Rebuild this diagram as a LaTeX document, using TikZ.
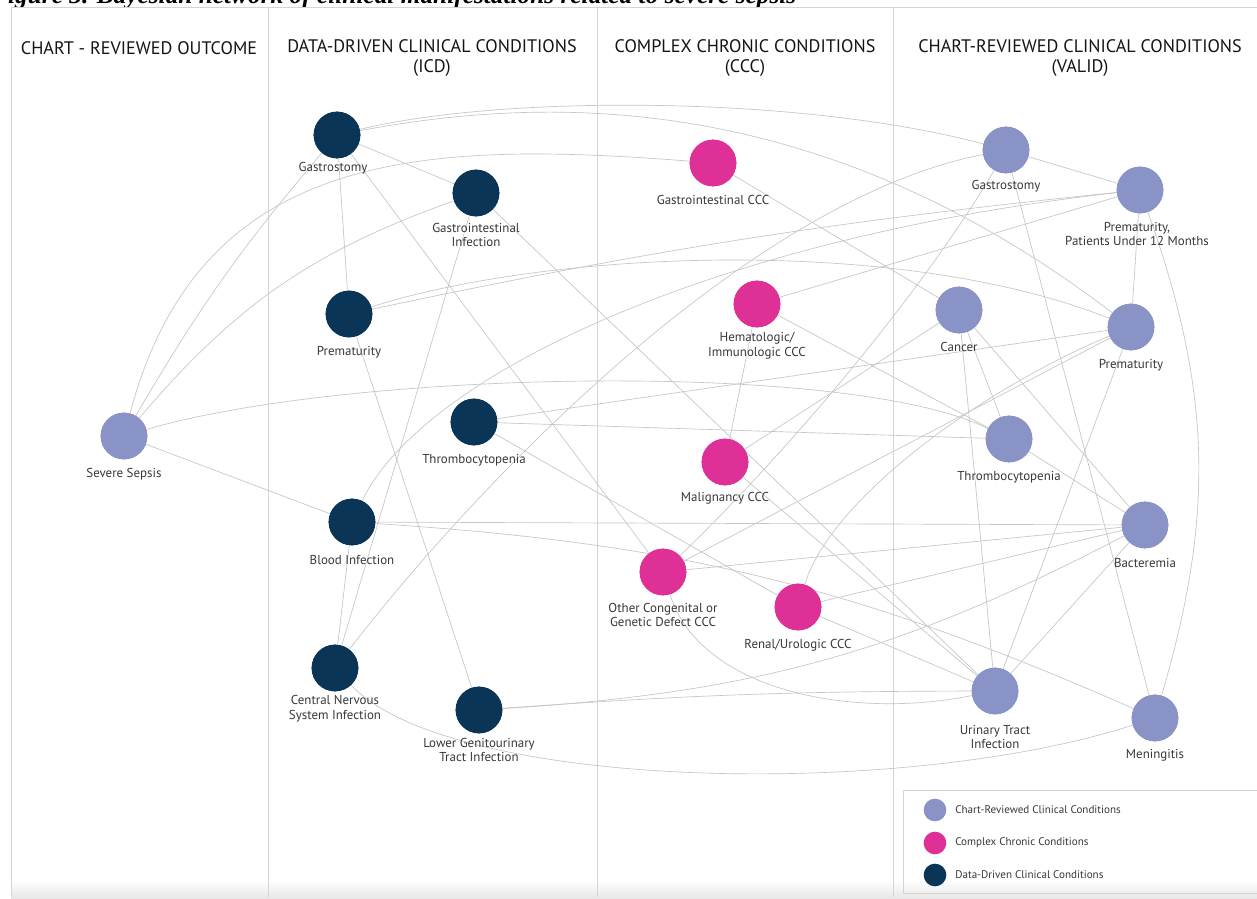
\documentclass[tikz,border=0pt]{standalone}
\usepackage{fontspec}
\setmainfont{PT Sans}
\newfontfamily\capfont{Liberation Serif}
\definecolor{navy}{HTML}{0B3556}
\definecolor{mag}{HTML}{DF3097}
\definecolor{lav}{HTML}{8A93C6}
\definecolor{edgec}{HTML}{C6C6C6}
\definecolor{framec}{HTML}{D4D4D4}
\definecolor{txt}{HTML}{383838}
\begin{document}
\begin{tikzpicture}[x=0.75pt,y=-0.75pt,
  nd/.style={circle,minimum size=35pt,inner sep=0pt},
  icd/.style={nd,fill=navy},
  ccc/.style={nd,fill=mag},
  val/.style={nd,fill=lav},
  lbl/.style={font=\fontsize{9.7}{11}\selectfont,text=txt,align=center,inner sep=0pt},
  hdr/.style={font=\fontsize{13.6}{15}\selectfont,text=black!92,align=center,inner sep=0pt},
  ed/.style={draw=edgec,line width=0.5pt},
  frm/.style={draw=framec,line width=0.6pt},
  legc/.style={circle,minimum size=17pt,inner sep=0pt},
  legt/.style={font=\fontsize{8.3}{9}\selectfont,text=txt,anchor=west,inner sep=0pt},
]
\useasboundingbox (0,0) rectangle (1257,899);
\fill[white] (0,0) rectangle (1257,899);
% caption (cut off at the top in the reference)
\begin{scope}
\clip (0,0) rectangle (1257,7);
\node[anchor=base west,inner sep=0pt,font=\capfont\bfseries\itshape\fontsize{19}{21}\selectfont] (cap) at (-9,4) {Figure 3. Bayesian network of clinical manifestations related to severe sepsis};
\end{scope}
% bottom shading
\shade[top color=white,bottom color=black!10] (11,880) rectangle (1257,899);
% frame
\draw[frm] (11,7) -- (1257,7);
\draw[frm] (11,7) -- (11,897);
\draw[frm] (268,7) -- (268,897);
\draw[frm] (597,7) -- (597,897);
\draw[frm] (893,7) -- (893,897);
% headers
\node[hdr] (h1) at (139,48) {CHART - REVIEWED OUTCOME};
\node[hdr] (h2) at (432,58) {DATA-DRIVEN CLINICAL CONDITIONS\\(ICD)};
\node[hdr] (h3) at (745,58) {COMPLEX CHRONIC CONDITIONS\\(CCC)};
\node[hdr] (h4) at (1080,58) {CHART-REVIEWED CLINICAL CONDITIONS\\(VALID)};
% nodes
\node[val] (SS) at (124,436) {};
\node[icd] (g1) at (337,135) {};
\node[icd] (gi) at (476,193) {};
\node[icd] (pr) at (349,314) {};
\node[icd] (th) at (474,422) {};
\node[icd] (bi) at (352,522) {};
\node[icd] (cn) at (335,668) {};
\node[icd] (lg) at (479,710) {};
\node[ccc] (gc) at (713,163) {};
\node[ccc] (hc) at (757,304) {};
\node[ccc] (mc) at (725,462) {};
\node[ccc] (oc) at (663,572) {};
\node[ccc] (rc) at (798,607) {};
\node[val] (vg) at (1006,150) {};
\node[val] (vp12) at (1140,190) {};
\node[val] (vc) at (959,310) {};
\node[val] (vp) at (1131,327) {};
\node[val] (vt) at (1009,439) {};
\node[val] (vb) at (1145,525) {};
\node[val] (vu) at (995,691) {};
\node[val] (vm) at (1155,718) {};
% edges
\draw[ed] (SS) to[bend left=5] (g1);
\draw[ed] (SS) .. controls (200,150) and (420,140) .. (gc);
\draw[ed] (SS) to[bend left=15] (gi);
\draw[ed] (SS) .. controls (350,370) and (850,360) .. (vt);
\draw[ed] (SS) -- (bi);
\draw[ed] (g1) -- (gi);
\draw[ed] (g1) -- (pr);
\draw[ed] (g1) -- (oc);
\draw[ed] (g1) .. controls (500,95) and (800,95) .. (vg);
\draw[ed] (g1) .. controls (550,95) and (820,90) .. (vp);
\draw[ed] (gi) -- (cn);
\draw[ed] (gi) -- (vu);
\draw[ed] (pr) to[bend left=3] (vp12);
\draw[ed] (pr) .. controls (550,250) and (900,235) .. (vp);
\draw[ed] (pr) -- (lg);
\draw[ed] (th) -- (vt);
\draw[ed] (th) -- (vp);
\draw[ed] (th) -- (rc);
\draw[ed] (bi) -- (cn);
\draw[ed] (bi) -- (vb);
\draw[ed] (bi) to[bend left=10] (vm);
\draw[ed] (bi) .. controls (420,380) and (700,240) .. (vp12);
\draw[ed] (cn) .. controls (480,480) and (750,200) .. (vg);
\draw[ed] (cn) .. controls (450,790) and (900,800) .. (vm);
\draw[ed] (lg) to[bend left=2] (vu);
\draw[ed] (lg) to[bend right=12] (vb);
\draw[ed] (gc) -- (vc);
\draw[ed] (hc) -- (vp12);
\draw[ed] (hc) -- (mc);
\draw[ed] (hc) -- (vt);
\draw[ed] (mc) -- (vu);
\draw[ed] (mc) -- (vc);
\draw[ed] (oc) -- (vp);
\draw[ed] (oc) .. controls (800,440) and (930,280) .. (vg);
\draw[ed] (oc) -- (vb);
\draw[ed] (oc) .. controls (700,690) and (850,720) .. (vu);
\draw[ed] (rc) -- (vu);
\draw[ed] (rc) -- (vb);
\draw[ed] (rc) .. controls (830,500) and (980,390) .. (vp);
\draw[ed] (vg) -- (vp12);
\draw[ed] (vg) -- (vm);
\draw[ed] (vp12) -- (vp);
\draw[ed] (vp12) to[bend left=18] (vm);
\draw[ed] (vc) -- (vt);
\draw[ed] (vc) -- (vu);
\draw[ed] (vc) -- (vb);
\draw[ed] (vt) -- (vb);
\draw[ed] (vp) -- (vu);
\draw[ed] (vb) -- (vu);
% redraw node discs on top of the connectors
\foreach \n/\s in {SS/val,g1/icd,gi/icd,pr/icd,th/icd,bi/icd,cn/icd,lg/icd,gc/ccc,hc/ccc,mc/ccc,oc/ccc,rc/ccc,vg/val,vp12/val,vc/val,vp/val,vt/val,vb/val,vu/val,vm/val}
  \node[\s] at (\n) {};
% labels
\node[lbl] (lSS) at (124,474) {Severe Sepsis};
\node[lbl] (lg1) at (333,168) {Gastrostomy};
\node[lbl] (lgi) at (476,235) {Gastrointestinal\\Infection};
\node[lbl] (lpr) at (349,352) {Prematurity};
\node[lbl] (lth) at (474,460) {Thrombocytopenia};
\node[lbl] (lbi) at (352,560) {Blood Infection};
\node[lbl] (lcn) at (335,709) {Central Nervous\\System Infection};
\node[lbl] (llg) at (479,750) {Lower Genitourinary\\Tract Infection};
\node[lbl] (lgc) at (713,200) {Gastrointestinal CCC};
\node[lbl] (lhc) at (757,346) {Hematologic/\\Immunologic CCC};
\node[lbl] (lmc) at (725,498) {Malignancy CCC};
\node[lbl] (loc) at (663,615) {Other Congenital or\\Genetic Defect CCC};
\node[lbl] (lrc) at (798,645) {Renal/Urologic CCC};
\node[lbl] (lvg) at (1006,186) {Gastrostomy};
\node[lbl] (lvp12) at (1137,234) {Prematurity,\\Patients Under 12 Months};
\node[lbl] (lvc) at (959,347) {Cancer};
\node[lbl] (lvp) at (1131,365) {Prematurity};
\node[lbl] (lvt) at (1009,477) {Thrombocytopenia};
\node[lbl] (lvb) at (1145,563) {Bacteremia};
\node[lbl] (lvu) at (995,737) {Urinary Tract\\Infection};
\node[lbl] (lvm) at (1155,755) {Meningitis};
% legend
\draw[frm,line width=0.5pt] (903,790) -- (1265,790);
\draw[frm,line width=0.5pt] (903,790) -- (903,893) -- (1265,893);
\node[legc,fill=lav] (k1) at (935,810) {};
\node[legc,fill=mag] (k2) at (935,843) {};
\node[legc,fill=navy] (k3) at (935,875) {};
\node[legt] (t1) at (955,810) {Chart-Reviewed Clinical Conditions};
\node[legt] (t2) at (955,843) {Complex Chronic Conditions};
\node[legt] (t3) at (955,875) {Data-Driven Clinical Conditions};
\end{tikzpicture}
\end{document}
